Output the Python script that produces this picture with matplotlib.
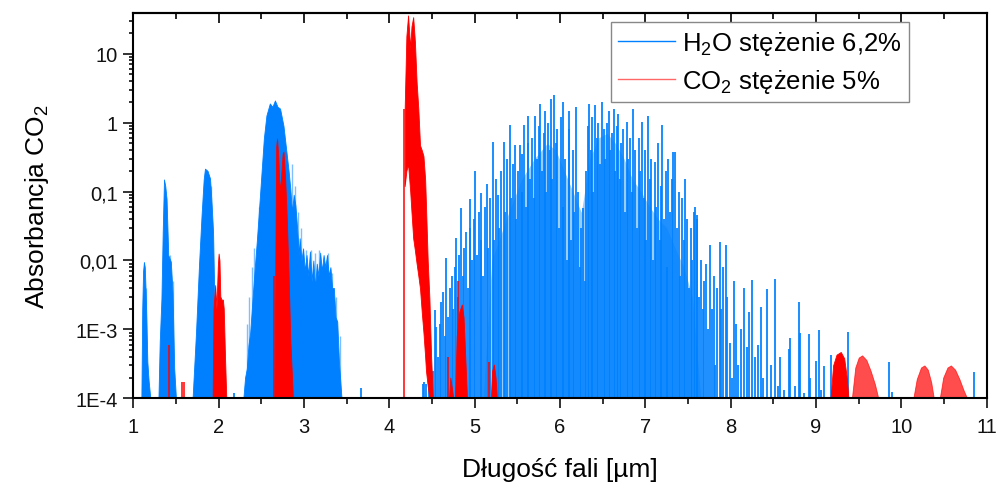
import matplotlib
matplotlib.use('Agg')
import matplotlib.pyplot as plt
from matplotlib.lines import Line2D
from matplotlib.ticker import MultipleLocator, LogLocator, NullFormatter

plt.rcParams['font.family'] = ['Liberation Sans', 'DejaVu Sans']
plt.rcParams['mathtext.fontset'] = 'custom'
plt.rcParams['mathtext.rm'] = 'Liberation Sans'
plt.rcParams['mathtext.it'] = 'Liberation Sans:italic'

BASE = 1e-4
BLUE = '#0080ff'
RED = '#ff0000'

# H2O - dense bands below 3.5 um (upper envelope, um / absorbance)
h2o_band_x = [1.095, 1.105, 1.115, 1.125, 1.135, 1.145, 1.155, 1.165, 1.18, 1.20,
              1.295, 1.31, 1.33, 1.345, 1.36, 1.375, 1.39, 1.41, 1.44, 1.46, 1.48, 1.50,
              1.695, 1.715, 1.735, 1.77, 1.80, 1.825, 1.84, 1.87, 1.90, 1.92, 1.935, 1.95, 1.965, 1.98,
              2.29, 2.31, 2.33, 2.35, 2.37, 2.40, 2.42, 2.45, 2.49, 2.53, 2.56, 2.60, 2.63, 2.66,
              2.69, 2.72, 2.76, 2.80, 2.82, 2.84, 2.86, 2.88, 2.90, 2.92, 2.94, 2.95, 2.97, 2.99,
              3.01, 3.03, 3.05, 3.07, 3.09, 3.11, 3.13, 3.15, 3.17, 3.19, 3.21, 3.23, 3.25, 3.27,
              3.29, 3.31, 3.33, 3.35, 3.37, 3.39, 3.41, 3.44]
h2o_band_y = [1e-4, 0.002, 0.007, 0.0095, 0.008, 0.0035, 0.0012, 3.4e-4, 1.8e-4, 1e-4,
              1e-4, 6.6e-4, 0.0028, 0.026, 0.15, 0.12, 0.079, 0.012, 0.0096, 0.0035, 2.7e-4, 1e-4,
              1e-4, 3e-4, 9e-4, 0.0085, 0.045, 0.15, 0.215, 0.2, 0.154, 0.06, 0.026, 0.0028, 4e-4, 1e-4,
              1e-4, 2e-4, 2.7e-4, 6e-4, 9e-4, 0.0031, 0.0068, 0.021, 0.11, 0.59, 1.27, 1.9, 1.7, 2.1,
              1.7, 1.6, 0.9, 0.33, 0.2, 0.11, 0.05, 0.09, 0.063, 0.029, 0.012, 0.021, 0.01, 0.015,
              0.007, 0.012, 0.006, 0.0135, 0.005, 0.01, 0.004, 0.009, 0.006, 0.013, 0.007, 0.012, 0.008, 0.012,
              0.006, 0.008, 0.004, 0.004, 0.0015, 0.0013, 3.4e-4, 1e-4]

# H2O - faint lines sticking out of the dense bands
h2o_faint_x = [1.15, 1.43, 1.47, 1.91, 2.33, 2.36, 2.39, 2.42, 2.47, 2.86, 2.89, 2.93,
               2.97, 3.02, 3.08, 3.13, 3.18, 3.28, 3.33, 3.38, 3.42]
h2o_faint_y = [0.004, 0.012, 0.005, 0.12, 0.0012, 0.003, 0.008, 0.015, 0.06, 0.25, 0.12, 0.05,
               0.03, 0.014, 0.014, 0.013, 0.014, 0.013, 0.0065, 0.003, 8e-4]

# H2O - crowded part of the 6 um band (height reached by the thick of the lines)
h2o_cloud_x = [5.10, 5.20, 5.40, 5.55, 5.70, 5.85, 5.95, 6.05, 6.15, 6.25, 6.35, 6.45,
               6.55, 6.65, 6.75, 6.85, 6.95, 7.05, 7.15, 7.25, 7.35, 7.45, 7.55, 7.65]
h2o_cloud_y = [1e-4, 0.01, 0.05, 0.15, 0.3, 0.5, 0.4, 0.2, 0.1, 0.05, 0.3, 0.6,
               0.7, 0.5, 0.3, 0.15, 0.1, 0.06, 0.04, 0.03, 0.015, 0.008, 0.003, 1e-4]

# H2O - separate lines from 4.4 um on
h2o_lines_x = [2.185, 3.67,
               4.39, 4.41, 4.43, 4.46, 4.49, 4.51, 4.53, 4.55, 4.57, 4.59, 4.61, 4.63, 4.65, 4.67,
               4.69, 4.71, 4.73, 4.75, 4.77, 4.78, 4.80, 4.82, 4.84, 4.86, 4.88, 4.90, 4.92, 4.94,
               4.95, 4.97, 4.99,
               5.01, 5.03, 5.05, 5.07, 5.08, 5.10, 5.12, 5.14, 5.16, 5.18, 5.21, 5.23, 5.25, 5.27,
               5.29, 5.31, 5.34, 5.36, 5.38, 5.41, 5.43, 5.45, 5.47, 5.49, 5.51, 5.53, 5.55, 5.56,
               5.58, 5.60, 5.62, 5.63, 5.65, 5.67, 5.69, 5.71, 5.73, 5.75, 5.77, 5.79, 5.81, 5.82,
               5.84, 5.86, 5.88, 5.89, 5.91, 5.93, 5.95, 5.97, 5.99, 6.01, 6.03, 6.04, 6.06, 6.08,
               6.10, 6.11, 6.13, 6.15, 6.17, 6.19, 6.21, 6.23, 6.25, 6.27, 6.29, 6.31,
               6.33, 6.34, 6.36, 6.38, 6.39, 6.41, 6.43, 6.45, 6.47, 6.49, 6.51, 6.53, 6.55, 6.57,
               6.59, 6.61, 6.63, 6.65, 6.67, 6.68, 6.70, 6.72, 6.74, 6.76, 6.78, 6.80, 6.82, 6.84,
               6.86, 6.88, 6.90, 6.92, 6.94, 6.96, 6.98, 7.00, 7.01, 7.03, 7.05, 7.07, 7.09, 7.11,
               7.13, 7.15, 7.17, 7.18, 7.20, 7.22, 7.24, 7.25, 7.27, 7.29, 7.31, 7.33, 7.35, 7.37,
               7.39, 7.41, 7.43, 7.45, 7.47, 7.49, 7.51, 7.53, 7.55, 7.57, 7.58, 7.60, 7.61, 7.63,
               7.65, 7.67,
               7.69, 7.71, 7.73, 7.76, 7.78, 7.80, 7.82, 7.84, 7.87, 7.89, 7.91, 7.94, 7.96, 7.99,
               8.01, 8.04, 8.06, 8.09, 8.12, 8.16, 8.19, 8.21, 8.25, 8.28, 8.32, 8.35, 8.38, 8.43,
               8.47, 8.52, 8.55, 8.58, 8.62, 8.68, 8.70, 8.75, 8.80, 8.81, 8.86, 8.92, 8.93, 9.00,
               9.04, 9.06, 9.09, 9.17, 9.38, 9.85, 9.89, 10.85]
h2o_lines_y = [1.2e-4, 1.4e-4,
               1.6e-4, 1.7e-4, 1.6e-4, 2e-4, 3e-4, 2.5e-4, 0.0019, 0.0011, 4e-4, 0.0012, 0.0025, 0.0035, 8e-4, 0.0107,
               0.0015, 0.004, 0.006, 0.002, 0.008, 0.021, 0.003, 0.012, 0.057, 0.006, 0.015, 0.026, 0.004, 0.03,
               0.079, 0.01, 0.04,
               0.2, 0.012, 0.05, 0.02, 0.095, 0.006, 0.06, 0.128, 0.015, 0.08, 0.52, 0.02, 0.15, 0.088,
               0.03, 0.2, 0.52, 0.05, 0.3, 0.91, 0.08, 0.25, 0.47, 0.04, 0.2, 0.47, 0.1, 0.35,
               0.91, 0.06, 0.5, 1.27, 0.15, 0.6, 0.08, 1.27, 0.3, 0.9, 1.88, 0.2, 0.7, 1.5,
               0.1, 1.0, 0.4, 2.23, 0.15, 2.5, 0.5, 0.8, 0.03, 1.2, 0.06, 2.0, 0.3, 0.01,
               0.8, 1.5, 0.02, 0.4, 0.05, 1.7, 0.1, 0.008, 0.03, 0.057, 0.005, 0.2,
               0.9, 1.88, 0.4, 1.2, 0.1, 1.8, 0.6, 1.0, 0.25, 2.0, 0.8, 0.3, 1.0, 1.5,
               0.4, 0.7, 1.6, 0.2, 0.9, 1.35, 0.15, 0.5, 0.8, 0.05, 1.03, 0.3, 0.6, 0.1,
               1.6, 0.4, 0.03, 0.6, 0.2, 1.03, 0.08, 0.4, 0.02, 1.27, 0.15, 0.3, 0.01, 0.27,
               0.06, 0.5, 0.02, 0.12, 0.91, 0.04, 0.2, 0.008, 0.3, 0.05, 0.15, 0.38, 0.38, 0.03,
               0.1, 0.006, 0.08, 0.02, 0.15, 0.04, 0.004, 0.03, 0.01, 0.05, 0.059, 0.04, 0.045, 0.003,
               0.01, 0.002,
               0.005, 0.009, 0.001, 0.0167, 0.002, 0.006, 3e-4, 0.004, 0.0186, 0.002, 0.008, 0.0167, 0.003, 6.4e-4,
               2e-4, 0.005, 0.0012, 3e-4, 0.001, 0.004, 5.5e-4, 0.0018, 0.0052, 4e-4, 6e-4, 0.0021, 2e-4, 0.0039,
               3e-4, 0.0054, 1.5e-4, 4e-4, 1.3e-4, 5.2e-4, 7.4e-4, 1.5e-4, 0.0025, 9e-4, 1.2e-4, 8.5e-4, 2e-4, 3.5e-4,
               9.8e-4, 1.3e-4, 2.9e-4, 4.3e-4, 9.3e-4, 3.4e-4, 1.25e-4, 2.4e-4]

# CO2 - bands drawn filled to the baseline
co2_band_x = [1.93, 1.94, 1.96, 1.975, 1.99, 2.0, 2.01, 2.02, 2.035, 2.05, 2.06, 2.075, 2.09,
              2.655, 2.665, 2.675, 2.685, 2.70, 2.715, 2.73, 2.75, 2.76, 2.78, 2.80, 2.82, 2.84, 2.86, 2.87,
              4.70, 4.715, 4.73, 4.75,
              4.77, 4.79, 4.82, 4.85, 4.87, 4.89, 4.91,
              5.19, 5.205, 5.225, 5.245, 5.26,
              9.17, 9.20, 9.24, 9.29, 9.33, 9.36, 9.38]
co2_band_y = [1e-4, 0.002, 0.0044, 0.002, 0.008, 0.0126, 0.01, 0.003, 0.0027, 0.0027, 0.002, 4e-4, 1e-4,
              1e-4, 0.01, 0.45, 0.59, 0.3, 0.1, 0.15, 0.35, 0.38, 0.15, 0.037, 0.006, 7e-4, 2e-4, 1e-4,
              1e-4, 2e-4, 1.5e-4, 1e-4,
              1e-4, 8e-4, 0.0018, 0.0023, 0.0015, 4e-4, 1e-4,
              1e-4, 2.5e-4, 3.1e-4, 2e-4, 1e-4,
              1e-4, 3e-4, 4.3e-4, 4.7e-4, 3.8e-4, 2e-4, 1e-4]

# CO2 - weaker (lighter) bands at the long wave end
co2_weak_x = [9.42, 9.46, 9.50, 9.54, 9.59, 9.64, 9.69, 9.73,
              10.14, 10.18, 10.23, 10.27, 10.31, 10.35, 10.38,
              10.45, 10.49, 10.54, 10.58, 10.63, 10.68, 10.73, 10.77]
co2_weak_y = [1e-4, 2.8e-4, 3.9e-4, 4.2e-4, 3.6e-4, 2.5e-4, 1.6e-4, 1e-4,
              1e-4, 1.9e-4, 2.8e-4, 3.0e-4, 2.6e-4, 1.7e-4, 1e-4,
              1e-4, 2e-4, 2.8e-4, 3.0e-4, 2.6e-4, 1.9e-4, 1.3e-4, 1e-4]

# CO2 - strong 4.3 um band, between lower and upper edge
co2_main_x = [4.18, 4.20, 4.22, 4.245, 4.26, 4.28, 4.30, 4.32, 4.34, 4.36, 4.38, 4.40, 4.42,
              4.43, 4.45, 4.47, 4.49, 4.51]
co2_main_hi = [1.6, 18, 36, 12, 25, 34, 15, 3.9, 1.6, 0.47, 0.4, 0.33, 0.15,
               0.063, 0.01, 0.0028, 4e-4, 1e-4]
co2_main_lo = [0.12, 0.2, 0.25, 0.1, 0.05, 0.021, 0.014, 0.009, 0.006, 0.0039, 0.0018, 9e-4, 4e-4,
               2.5e-4, 1.5e-4, 1e-4, 1e-4, 1e-4]

# CO2 - single lines
co2_lines_x = [1.42, 1.57, 1.59, 2.645, 4.17, 4.69, 4.81, 5.17]
co2_lines_y = [5.9e-4, 1.75e-4, 1.75e-4, 0.006, 1.6, 4e-4, 0.005, 3.4e-4]

yticks = [1e-4, 1e-3, 1e-2, 1e-1, 1, 10]
ytick_labels = ['1E-4', '1E-3', '0,01', '0,1', '1', '10']

fig = plt.figure(figsize=(9.99, 4.85), dpi=100)
ax = fig.add_axes([0.1334, 0.1767, 0.8543, 0.7944])

ax.vlines(h2o_faint_x, BASE, h2o_faint_y, color=BLUE, lw=1.0, alpha=0.5, zorder=1)
ax.fill_between(h2o_cloud_x, BASE, h2o_cloud_y, color=BLUE, lw=0, alpha=0.4, zorder=1)
ax.fill_between(h2o_band_x, BASE, h2o_band_y, color=BLUE, lw=0.6, zorder=2)
ax.vlines(h2o_lines_x, BASE, h2o_lines_y, color=BLUE, lw=1.25, zorder=2)

ax.fill_between(co2_band_x, BASE, co2_band_y, color=RED, lw=0.6, zorder=3)
ax.fill_between(co2_weak_x, BASE, co2_weak_y, color=RED, lw=0.6, alpha=0.7, zorder=3)
ax.fill_between(co2_main_x, co2_main_lo, co2_main_hi, color=RED, lw=0.6, zorder=3)
ax.vlines(co2_lines_x, BASE, co2_lines_y, color=RED, lw=1.1, zorder=3)

ax.set_yscale('log')
ax.set_xlim(1, 11)
ax.set_ylim(1e-4, 39)

ax.set_yticks(yticks, ytick_labels)
ax.yaxis.set_minor_locator(LogLocator(base=10, subs=range(2, 10)))
ax.yaxis.set_minor_formatter(NullFormatter())
ax.xaxis.set_major_locator(MultipleLocator(1))
ax.xaxis.set_minor_locator(MultipleLocator(0.5))

ax.tick_params(which='both', direction='out', width=1.2, labelsize=14.5, colors='#111111')
ax.tick_params(which='major', length=7.5)
ax.tick_params(which='minor', length=4)
ax.tick_params(axis='x', which='major', pad=6)
ax.tick_params(axis='y', which='minor', length=3)
for s in ax.spines.values():
    s.set_linewidth(1.5)
    s.set_zorder(4)

top = ax.secondary_xaxis('top')
top.xaxis.set_major_locator(MultipleLocator(1))
top.xaxis.set_minor_locator(MultipleLocator(0.5))
top.tick_params(which='both', direction='in', width=1.2, labeltop=False)
top.tick_params(which='major', length=7.5)
top.tick_params(which='minor', length=4)
top.spines['top'].set_linewidth(1.5)

ax.set_xlabel('Długość fali [µm]', fontsize=19, labelpad=15)
ax.set_ylabel('Absorbancja CO$_2$', fontsize=19, labelpad=18)

handles = [Line2D([], [], color=BLUE, lw=1),
           Line2D([], [], color=RED, lw=1, alpha=0.6)]
leg = ax.legend(handles, ['H$_2$O stężenie 6,2%', 'CO$_2$ stężenie 5%'],
                loc='upper left', bbox_to_anchor=(0.5598, 0.9766), borderaxespad=0,
                fontsize=18.5, fancybox=False, framealpha=1, edgecolor='#888888',
                handlelength=2.2, handletextpad=0.3, borderpad=0.28, labelspacing=0.38)
leg.get_frame().set_linewidth(1.0)
leg.set_zorder(5)

fig.savefig('out.png', dpi=100)
